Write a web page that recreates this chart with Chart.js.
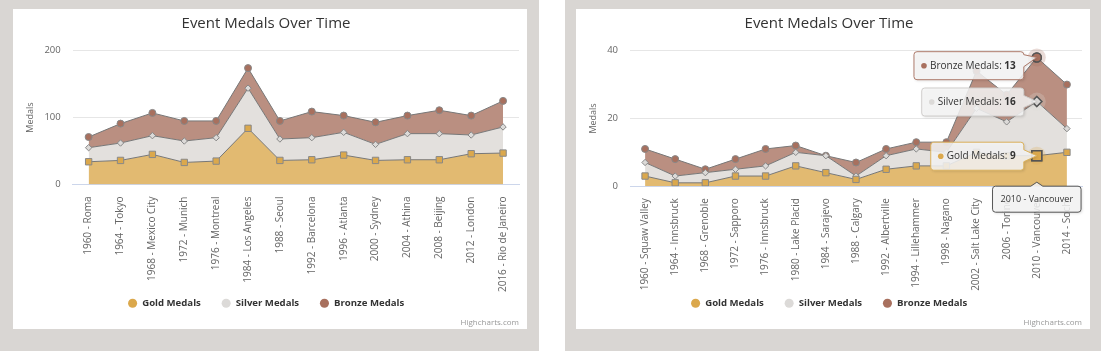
<!DOCTYPE html>
<html>
<head>
<meta charset="utf-8">
<script src="https://cdn.jsdelivr.net/npm/chart.js@4.4.1/dist/chart.umd.min.js"></script>
<style>
  body { margin: 0; width: 1101px; height: 351px; background: #fff; position: relative; overflow: hidden; }
  .panel { position: absolute; top: 0; height: 351px; background: #d9d6d3; }
  .card { position: absolute; top: 9px; width: 514px; height: 320px; background: #fff; }
</style>
</head>
<body>
<div class="panel" style="left:0;width:539px">
  <div class="card" style="left:13px"><canvas id="summer"></canvas></div>
</div>
<div class="panel" style="left:565px;width:536px">
  <div class="card" style="left:11px"><canvas id="winter"></canvas></div>
</div>
<script>
// summer games
const summerGames = ['1960 - Roma', '1964 - Tokyo', '1968 - Mexico City', '1972 - Munich', '1976 - Montreal',
  '1984 - Los Angeles', '1988 - Seoul', '1992 - Barcelona', '1996 - Atlanta', '2000 - Sydney',
  '2004 - Athina', '2008 - Beijing', '2012 - London', '2016 - Rio de Janeiro'];
const summerGold   = [34, 36, 45, 33, 35, 84, 36, 37, 44, 36, 37, 37, 46, 47];
const summerSilver = [21, 26, 28, 32, 35, 60, 32, 33, 34, 24, 39, 39, 28, 39];
const summerBronze = [16, 29, 34, 30, 25, 30, 27, 39, 25, 33, 27, 35, 29, 39];
const summerTicks  = [0, 100, 200];

// winter games
const winterGames = ['1960 - Squaw Valley', '1964 - Innsbruck', '1968 - Grenoble', '1972 - Sapporo',
  '1976 - Innsbruck', '1980 - Lake Placid', '1984 - Sarajevo', '1988 - Calgary', '1992 - Albertville',
  '1994 - Lillehammer', '1998 - Nagano', '2002 - Salt Lake City', '2006 - Torino', '2010 - Vancouver',
  '2014 - Sochi'];
const winterGold   = [3, 1, 1, 3, 3, 6, 4, 2, 5, 6, 6, 10, 9, 9, 10];
const winterSilver = [4, 2, 3, 2, 3, 4, 5, 1, 4, 5, 4, 13, 10, 16, 7];
const winterBronze = [4, 5, 1, 3, 5, 2, 0, 4, 2, 2, 3, 11, 8, 13, 13];
const winterTicks  = [0, 20, 40];
const winterHoverIndex = 13;

const seriesNames = ['Gold Medals', 'Silver Medals', 'Bronze Medals'];

Chart.defaults.font.family = "'Open Sans', sans-serif";
Chart.defaults.color = '#666';

const fills   = ['#e2ba71', '#e3e0dd', '#ba8f81'];
const dots    = ['#dba84c', '#dcdad8', '#a8705e'];
const styles  = ['rect', 'rectRot', 'circle'];
const radii   = [4.5, 3.2, 3.5];
const hovR    = [7, 5, 4.5];

function series(i, data) {
  return {
    label: seriesNames[i],
    data: data,
    backgroundColor: fills[i],
    borderColor: '#777',
    borderWidth: 1,
    fill: i === 0 ? 'origin' : '-1',
    tension: 0,
    pointStyle: styles[i],
    pointRadius: radii[i],
    pointBackgroundColor: dots[i],
    pointBorderColor: '#888',
    pointBorderWidth: 1,
    pointHoverRadius: hovR[i],
    pointHoverBackgroundColor: dots[i],
    pointHoverBorderColor: '#555',
    pointHoverBorderWidth: 1.5
  };
}

const credits = {
  id: 'credits',
  afterDraw(chart) {
    const ctx = chart.ctx;
    ctx.save();
    ctx.font = "8px 'Open Sans', sans-serif";
    ctx.fillStyle = '#999';
    ctx.textAlign = 'right';
    ctx.textBaseline = 'middle';
    ctx.fillText('Highcharts.com', chart.width - 8, 313.5);
    ctx.restore();
  }
};

function makeChart(id, labels, gold, silver, bronze, ticks, yWidth, xHeight, extra) {
  return new Chart(document.getElementById(id), {
    type: 'line',
    data: {
      labels: labels,
      datasets: [series(0, gold), series(1, silver), series(2, bronze)]
    },
    options: {
      responsive: true,
      maintainAspectRatio: false,
      animation: false,
      events: [],
      layout: { padding: { top: 0, right: 8, bottom: 10.9, left: 0 } },
      plugins: {
        tooltip: { enabled: false },
        title: {
          display: true,
          text: 'Event Medals Over Time',
          color: '#333',
          font: { size: 15, weight: 'normal' },
          padding: { top: 6, bottom: 17.7 }
        },
        legend: {
          position: 'bottom',
          labels: {
            usePointStyle: true,
            boxWidth: 10,
            boxHeight: 6.4,
            padding: 20.5,
            color: '#333',
            font: { size: 9.6, weight: 'bold' },
            generateLabels: chart => chart.data.datasets.map((ds, i) => ({
              text: ds.label,
              fillStyle: ds.pointBackgroundColor,
              strokeStyle: ds.pointBackgroundColor,
              lineWidth: 0,
              pointStyle: 'circle',
              hidden: false,
              datasetIndex: i,
              fontColor: '#333'
            }))
          }
        }
      },
      scales: {
        x: {
          offset: true,
          grid: { display: false },
          border: { color: '#ccd6eb' },
          ticks: { autoSkip: false, minRotation: 90, maxRotation: 90, padding: 4, font: { size: 10 }, color: '#666' },
          afterFit: s => {
            s.height = xHeight;
            // long labels run past the axis box, as in the original
            s._computeLabelArea = () => undefined;
          }
        },
        y: {
          stacked: true,
          min: ticks[0],
          max: ticks[ticks.length - 1],
          afterBuildTicks: s => { s.ticks = ticks.map(v => ({ value: v })); },
          ticks: { padding: 12, font: { size: 9.5 }, color: '#666' },
          grid: { color: '#e6e6e6', drawTicks: false },
          border: { display: false },
          title: { display: true, text: 'Medals', color: '#666', font: { size: 9 }, padding: { top: 12, bottom: 0 } },
          afterFit: s => { s.width = yWidth; }
        }
      }
    },
    plugins: [credits].concat(extra || [])
  });
}

// box with a pointer on its right edge, pointing at (ax, ay)
function sideCallout(ctx, x, y, w, h, ax, ay) {
  const r = 3;
  const by = Math.min(Math.max(ay, y + r + 6), y + h - r - 6);
  ctx.moveTo(x + r, y);
  ctx.lineTo(x + w - r, y);
  ctx.arcTo(x + w, y, x + w, y + r, r);
  ctx.lineTo(x + w, by - 6);
  ctx.lineTo(ax, ay);
  ctx.lineTo(x + w, by + 6);
  ctx.lineTo(x + w, y + h - r);
  ctx.arcTo(x + w, y + h, x + w - r, y + h, r);
  ctx.lineTo(x + r, y + h);
  ctx.arcTo(x, y + h, x, y + h - r, r);
  ctx.lineTo(x, y + r);
  ctx.arcTo(x, y, x + r, y, r);
  ctx.closePath();
}

function topCallout(ctx, x, y, w, h, ax, tipY) {
  const r = 3;
  ctx.moveTo(x + r, y);
  ctx.lineTo(ax - 6, y);
  ctx.lineTo(ax, tipY);
  ctx.lineTo(ax + 6, y);
  ctx.lineTo(x + w - r, y);
  ctx.arcTo(x + w, y, x + w, y + r, r);
  ctx.lineTo(x + w, y + h - r);
  ctx.arcTo(x + w, y + h, x + w - r, y + h, r);
  ctx.lineTo(x + r, y + h);
  ctx.arcTo(x, y + h, x, y + h - r, r);
  ctx.lineTo(x, y + r);
  ctx.arcTo(x, y, x + r, y, r);
  ctx.closePath();
}

function paintBox(ctx, stroke) {
  ctx.save();
  ctx.shadowColor = 'rgba(0,0,0,0.18)';
  ctx.shadowBlur = 3;
  ctx.shadowOffsetX = 1;
  ctx.shadowOffsetY = 1;
  ctx.fillStyle = 'rgba(247,247,247,0.85)';
  ctx.fill();
  ctx.restore();
  ctx.lineWidth = 1;
  ctx.strokeStyle = stroke;
  ctx.stroke();
}

const splitTooltip = {
  id: 'splitTooltip',
  afterDatasetsDraw(chart) {
    const ctx = chart.ctx;
    const idx = winterHoverIndex;
    ctx.save();
    ctx.globalAlpha = 0.25;
    chart.data.datasets.forEach((ds, i) => {
      const pt = chart.getDatasetMeta(i).data[idx];
      ctx.fillStyle = ds.pointBackgroundColor;
      ctx.beginPath();
      ctx.arc(pt.x, pt.y, 9, 0, Math.PI * 2);
      ctx.fill();
    });
    ctx.restore();
    chart.data.datasets.forEach((ds, i) => chart.getDatasetMeta(i).data[idx].draw(ctx, chart.chartArea));
  },
  afterDraw(chart) {
    const ctx = chart.ctx;
    const area = chart.chartArea;
    const idx = winterHoverIndex;
    const values = [winterGold[idx], winterSilver[idx], winterBronze[idx]];
    const borders = ['#dcb25c', '#cfcdcb', '#ad7a6a'];
    const normal = "10px 'Open Sans', sans-serif";
    const bold = "bold 10px 'Open Sans', sans-serif";
    ctx.save();
    [2, 1, 0].forEach(i => {
      const pt = chart.getDatasetMeta(i).data[idx];
      const label = seriesNames[i] + ': ';
      const val = String(values[i]);
      ctx.font = normal;
      const w1 = ctx.measureText(label).width;
      ctx.font = bold;
      const w2 = ctx.measureText(val).width;
      const w = 16 + w1 + w2 + 8;
      const h = 28;
      const right = pt.x - 13;
      const x = right - w;
      const y = Math.max(pt.y - h / 2 + 0.5, area.top + 1);
      ctx.beginPath();
      sideCallout(ctx, x, y, w, h, pt.x, pt.y);
      paintBox(ctx, borders[i]);
      ctx.fillStyle = dots[i];
      ctx.beginPath();
      ctx.arc(x + 10, y + h / 2, 2.8, 0, Math.PI * 2);
      ctx.fill();
      ctx.textBaseline = 'middle';
      ctx.textAlign = 'left';
      ctx.fillStyle = '#333';
      ctx.font = normal;
      ctx.fillText(label, x + 16, y + h / 2);
      ctx.font = bold;
      ctx.fillText(val, x + 16 + w1, y + h / 2);
    });
    // header under the axis
    const px = chart.getDatasetMeta(0).data[idx].x;
    const head = winterGames[idx];
    ctx.font = "9px 'Open Sans', sans-serif";
    const hw = ctx.measureText(head).width + 16;
    const hh = 26;
    const hx = px - hw / 2;
    const hy = area.bottom;
    ctx.beginPath();
    topCallout(ctx, hx, hy, hw, hh, px, hy - 4);
    paintBox(ctx, '#555');
    ctx.fillStyle = '#333';
    ctx.textAlign = 'center';
    ctx.textBaseline = 'middle';
    ctx.fillText(head, px, hy + hh / 2);
    ctx.restore();
  }
};

function build() {
  makeChart('summer', summerGames, summerGold, summerSilver, summerBronze, summerTicks, 59.7, 93.5, []);
  const winterChart = makeChart('winter', winterGames, winterGold, winterSilver, winterBronze, winterTicks, 54, 91.8, [splitTooltip]);
  winterChart.setActiveElements([0, 1, 2].map(d => ({ datasetIndex: d, index: winterHoverIndex })));
  winterChart.update();
}

Promise.all([
  document.fonts.load("10px 'Open Sans'"),
  document.fonts.load("bold 10px 'Open Sans'")
]).then(build, build);
</script>
</body>
</html>
